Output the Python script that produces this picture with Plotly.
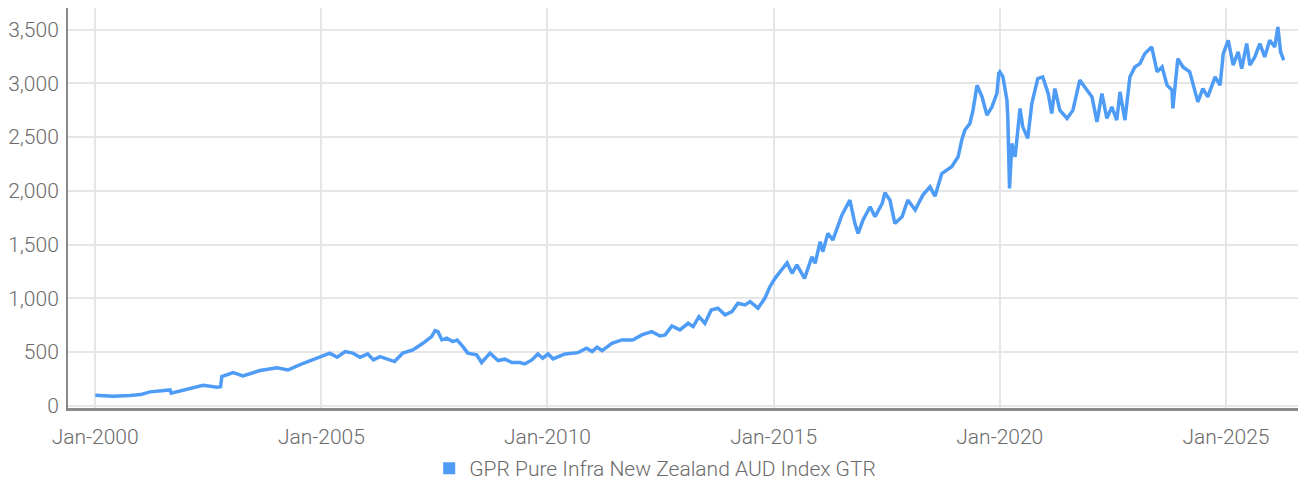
import plotly.graph_objects as go

series_name = "GPR Pure Infra New Zealand AUD Index GTR"

dates = [
    "2000-01-03", "2000-03-15", "2000-05-25", "2000-10-08", "2001-01-03", "2001-03-20",
    "2001-06-12", "2001-08-28", "2001-09-06", "2001-11-25", "2002-02-06", "2002-05-22",
    "2002-09-12", "2002-10-10", "2002-10-20", "2003-01-20", "2003-04-08", "2003-08-25",
    "2004-01-08", "2004-04-08", "2004-08-08", "2004-12-20", "2005-03-10", "2005-05-08",
    "2005-07-12", "2005-09-12", "2005-11-10", "2006-01-10", "2006-02-25", "2006-04-20",
    "2006-06-15", "2006-08-15", "2006-10-20", "2007-01-10", "2007-04-01", "2007-06-10",
    "2007-07-08", "2007-08-01", "2007-09-01", "2007-10-10", "2007-11-28", "2008-01-02",
    "2008-02-18", "2008-03-28", "2008-06-08", "2008-07-18", "2008-09-24", "2008-11-28",
    "2009-01-22", "2009-03-20", "2009-05-22", "2009-07-01", "2009-08-28", "2009-10-15",
    "2009-11-24", "2010-01-05", "2010-02-15", "2010-05-22", "2010-09-05", "2010-11-12",
    "2010-12-28", "2011-02-05", "2011-03-18", "2011-06-05", "2011-08-25", "2011-11-20",
    "2012-02-02", "2012-04-22", "2012-06-28", "2012-08-08", "2012-10-01", "2012-12-05",
    "2013-02-10", "2013-03-22", "2013-05-08", "2013-06-25", "2013-08-15", "2013-10-08",
    "2013-12-05", "2014-01-30", "2014-03-18", "2014-05-15", "2014-06-25", "2014-08-28",
    "2014-10-22", "2014-12-02", "2015-01-12", "2015-04-20", "2015-05-30", "2015-07-08",
    "2015-09-08", "2015-11-06", "2015-12-02", "2016-01-12", "2016-02-02", "2016-03-14",
    "2016-04-23", "2016-07-05", "2016-09-08", "2016-10-18", "2016-11-13", "2016-12-23",
    "2017-02-18", "2017-03-30", "2017-05-27", "2017-06-18", "2017-07-28", "2017-09-06",
    "2017-11-03", "2017-12-20", "2018-02-17", "2018-04-20", "2018-06-17", "2018-07-27",
    "2018-09-20", "2018-12-09", "2019-01-30", "2019-02-28", "2019-03-25", "2019-05-05",
    "2019-05-30", "2019-07-02", "2019-08-11", "2019-09-20", "2019-10-30", "2019-12-09",
    "2019-12-24", "2020-01-02", "2020-01-27", "2020-02-28", "2020-03-06", "2020-03-20",
    "2020-04-08", "2020-05-04", "2020-06-13", "2020-07-05", "2020-08-14", "2020-09-16",
    "2020-10-12", "2020-11-03", "2020-12-13", "2021-01-26", "2021-02-24", "2021-03-21",
    "2021-04-30", "2021-06-28", "2021-08-14", "2021-10-08", "2021-11-17", "2022-01-15",
    "2022-02-24", "2022-04-05", "2022-05-15", "2022-06-24", "2022-08-03", "2022-08-29",
    "2022-10-08", "2022-11-17", "2022-12-27", "2023-02-06", "2023-03-18", "2023-05-12",
    "2023-06-25", "2023-08-04", "2023-09-13", "2023-10-23", "2023-10-30", "2023-12-09",
    "2024-01-19", "2024-03-14", "2024-04-23", "2024-05-19", "2024-06-28", "2024-08-07",
    "2024-10-05", "2024-11-14", "2024-12-10", "2025-01-19", "2025-02-28", "2025-04-09",
    "2025-05-08", "2025-06-17", "2025-07-13", "2025-08-22", "2025-10-01", "2025-11-10",
    "2025-12-20", "2026-01-30", "2026-02-24", "2026-03-18", "2026-04-12",
]

values = [
    98, 92, 90, 96, 105, 130,
    142, 148, 118, 140, 164, 192,
    173, 178, 272, 309, 279, 328,
    353, 334, 396, 458, 490, 452,
    505, 490, 452, 483, 427, 458,
    434, 412, 490, 520, 582, 644,
    700, 690, 613, 629, 598, 613,
    551, 490, 474, 403, 490, 421,
    434, 403, 403, 390, 427, 483,
    443, 483, 437, 483, 495, 536,
    505, 545, 514, 582, 613, 613,
    660, 690, 650, 660, 743, 706,
    768, 737, 830, 768, 892, 908,
    846, 876, 954, 938, 969, 908,
    1000, 1108, 1186, 1331, 1232, 1310,
    1186, 1387, 1326, 1526, 1434, 1604,
    1542, 1774, 1914, 1697, 1604, 1728,
    1852, 1759, 1883, 1982, 1914, 1697,
    1759, 1914, 1821, 1960, 2037, 1950,
    2161, 2223, 2316, 2471, 2564, 2626,
    2750, 2982, 2873, 2703, 2780, 2905,
    3091, 3106, 3059, 2843, 2688, 2022,
    2440, 2316, 2766, 2595, 2487, 2812,
    2936, 3044, 3059, 2905, 2719, 2951,
    2750, 2673, 2750, 3029, 2966, 2873,
    2641, 2905, 2673, 2780, 2657, 2920,
    2657, 3059, 3152, 3183, 3276, 3338,
    3106, 3152, 2982, 2936, 2766, 3229,
    3152, 3106, 2936, 2827, 2951, 2873,
    3059, 2982, 3276, 3400, 3168, 3291,
    3137, 3369, 3168, 3245, 3369, 3245,
    3400, 3338, 3524, 3291, 3214,
]

y_ticks = [0, 500, 1000, 1500, 2000, 2500, 3000, 3500]

LINE = "#4f9cf6"
FONT = "Roboto, sans-serif"
TXT = "#6b6b6b"

fig = go.Figure()
fig.add_trace(go.Scatter(
    x=dates, y=values, mode="lines", name=series_name,
    line=dict(color=LINE, width=3.5), showlegend=False,
))
fig.add_trace(go.Scatter(
    x=[None], y=[None], mode="markers", name=series_name,
    marker=dict(symbol="square", color=LINE, size=11),
))

fig.update_layout(
    width=1298, height=482,
    margin=dict(l=60, r=1, t=0, b=82),
    paper_bgcolor="white", plot_bgcolor="white",
    font=dict(family=FONT, size=21, color=TXT, weight=300),
    legend=dict(orientation="h", x=0.292, xanchor="left", y=-0.2025, yanchor="bottom",
                font=dict(family=FONT, size=21, color=TXT, weight=300),
                itemwidth=30, itemsizing="constant"),
    xaxis=dict(
        type="date", range=["1999-05-27", "2026-10-01"],
        tick0="2000-01-01", dtick="M60", tickformat="%b-%Y",
        showgrid=True, gridcolor="#e6e6e6", gridwidth=2,
        showline=True, linecolor="#8a8a8a", linewidth=3,
        ticks="", zeroline=False, automargin=False, ticklabelstandoff=8,
    ),
    yaxis=dict(
        range=[-20, 3700], tickvals=y_ticks, tickformat=",",
        showgrid=True, gridcolor="#e6e6e6", gridwidth=2,
        showline=True, linecolor="#8a8a8a", linewidth=2,
        ticks="", zeroline=False, automargin=False, ticklabelstandoff=3,
    ),
)

fig.write_html("out.html")
